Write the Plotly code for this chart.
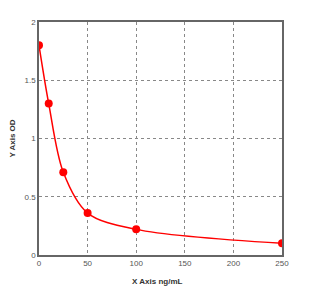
import plotly.graph_objects as go

conc = [0, 10, 25, 50, 100, 250]
od = [1.80, 1.30, 0.71, 0.36, 0.22, 0.10]
x_ticks = [0, 50, 100, 150, 200, 250]
y_ticks = [0, 0.5, 1, 1.5, 2]
y_tick_labels = ["0", "0.5", "1", "1.5", "2"]

fig = go.Figure()
fig.add_trace(go.Scatter(
    x=conc, y=od, mode="lines+markers",
    line=dict(color="#ff0000", width=1.5, shape="spline", smoothing=0.9),
    marker=dict(color="#ff0000", size=8),
    showlegend=False,
))

fig.update_layout(
    width=328, height=293,
    margin=dict(l=39, r=46, t=22, b=38),
    paper_bgcolor="white", plot_bgcolor="white",
    font=dict(family="Liberation Sans, Arial, sans-serif", size=8, color="#555555"),
)
fig.update_xaxes(
    range=[0, 250], tickvals=x_ticks, ticktext=[str(v) for v in x_ticks],
    showgrid=True, gridcolor="#888888", griddash="dot", gridwidth=1,
    showline=True, linecolor="#666666", linewidth=1.5, mirror=True,
    zeroline=False, ticks="", ticklen=0,
)
fig.update_yaxes(
    range=[0, 2], tickvals=y_ticks, ticktext=y_tick_labels,
    showgrid=True, gridcolor="#888888", griddash="dot", gridwidth=1,
    showline=True, linecolor="#666666", linewidth=1.5, mirror=True,
    zeroline=False, ticks="",
    title=dict(text="<b>Y Axis OD</b>", font=dict(size=8, color="#333333"), standoff=8),
)
fig.add_annotation(
    x=100, y=0, xref="x", yref="paper", yshift=-20, xanchor="left", yanchor="top",
    text="<b>X Axis ng/mL</b>", showarrow=False, font=dict(size=8, color="#333333"),
    xshift=-6,
)
fig.write_html("out.html")
